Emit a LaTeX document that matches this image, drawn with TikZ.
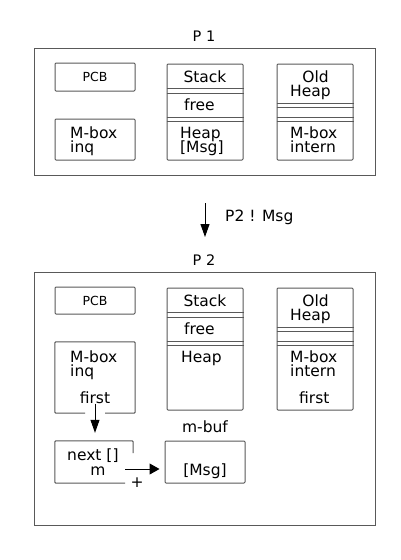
\documentclass[tikz,border=0pt]{standalone}
\usepackage{fontspec}
\setmainfont{DejaVu Sans}
\usetikzlibrary{positioning, arrows.meta, calc}
\definecolor{framegray}{gray}{0.35}
\tikzset{
  frame/.style={draw=framegray, line width=1pt},
  cell/.style={draw=framegray, line width=1pt, rounded corners=1pt, inner sep=0pt},
  lbl/.style={font=\fontsize{15.5}{18}\selectfont, inner sep=0pt, text height=11pt, text depth=0pt},
  title/.style={font=\fontsize{14.5}{17}\selectfont, inner sep=0pt, text height=10pt, text depth=0pt},
  small/.style={font=\fontsize{12.5}{15}\selectfont, inner sep=0pt},
  msgarrow/.style={-{Triangle[length=13pt,width=9pt]}, line width=1pt}
}

\begin{document}
\begin{tikzpicture}[x=1pt, y=-1pt]
      \useasboundingbox[fill=white] (0,0) rectangle (400,560);

      \node[title] (T1) at (204,36) {P 1};
      \draw[frame] (34,48) rectangle (375,175);

      \node[cell, small, minimum width=80pt, minimum height=28pt] (PCB1) at (95,77) {PCB};
      \node[cell, minimum width=80pt, minimum height=41pt] (INQ1) at (95,139.5) {};
      \node[lbl, anchor=west] (INQ1a) at (70,133) {M-box};
      \node[lbl, anchor=west] (INQ1b) at (70,147) {inq};

      \node[cell, minimum width=76pt, minimum height=96pt] (STK1) at (205,112) {};
      \foreach \y in {88,93,117,121}
        \draw[framegray, line width=1pt] (STK1.west |- 0,\y) -- (STK1.east |- 0,\y);
      \node[lbl] (STK1a) at (205,77) {Stack};
      \node[lbl, anchor=west] (STK1b) at (184,105) {free};
      \node[lbl, anchor=west] (STK1c) at (180,133) {Heap};
      \node[lbl, anchor=west] (STK1d) at (180,147) {[Msg]};

      \node[cell, minimum width=76pt, minimum height=96pt] (OLD1) at (315,112) {};
      \foreach \y in {103,107,117,121}
        \draw[framegray, line width=1pt] (OLD1.west |- 0,\y) -- (OLD1.east |- 0,\y);
      \node[lbl, anchor=east] (OLD1a) at (329,77) {Old};
      \node[lbl, anchor=west] (OLD1b) at (290,91) {Heap};
      \node[lbl, anchor=west] (OLD1c) at (290,133) {M-box};
      \node[lbl, anchor=west] (OLD1d) at (290,147) {intern};

      \coordinate (SEND1) at (205,203);
      \coordinate (SEND2) at (205,237);
      \draw[msgarrow] (SEND1) -- (SEND2);
      \node[lbl, anchor=west] (SENDa) at (225,216) {P2 ! Msg};

      \node[title] (T2) at (204,260) {P 2};
      \draw[frame] (34,272) rectangle (375,525);

      \node[cell, small, minimum width=80pt, minimum height=27pt] (PCB2) at (95,300.5) {PCB};
      \node[minimum width=80pt, minimum height=71pt, inner sep=0pt] (INQ2) at (95,377.5) {};
      \draw[framegray, line width=1pt, rounded corners=1pt]
        (INQ2.south west -| 85,0) -- (INQ2.south west) -- (INQ2.north west)
        -- (INQ2.north east) -- (INQ2.south east) -- (INQ2.south east -| 105,0);
      \node[lbl, anchor=west] (INQ2a) at (70,357) {M-box};
      \node[lbl, anchor=west] (INQ2b) at (70,371) {inq};
      \node[lbl] (FST2) at (95,398) {first};

      \node[cell, minimum width=76pt, minimum height=122pt] (STK2) at (205,349) {};
      \foreach \y in {312,317,341,345}
        \draw[framegray, line width=1pt] (STK2.west |- 0,\y) -- (STK2.east |- 0,\y);
      \node[lbl] (STK2a) at (205,301) {Stack};
      \node[lbl, anchor=west] (STK2b) at (184,329) {free};
      \node[lbl, anchor=west] (STK2c) at (181,357) {Heap};

      \node[cell, minimum width=76pt, minimum height=122pt] (OLD2) at (315,349) {};
      \foreach \y in {327,331,341,345}
        \draw[framegray, line width=1pt] (OLD2.west |- 0,\y) -- (OLD2.east |- 0,\y);
      \node[lbl, anchor=east] (OLD2a) at (329,301) {Old};
      \node[lbl, anchor=west] (OLD2b) at (290,315) {Heap};
      \node[lbl, anchor=west] (OLD2c) at (290,357) {M-box};
      \node[lbl, anchor=west] (OLD2d) at (290,371) {intern};
      \node[lbl, anchor=west] (OLD2e) at (299,398) {first};

      \node[minimum width=78pt, minimum height=42pt, inner sep=0pt] (NXT2) at (94,462) {};
      \draw[framegray, line width=1pt, rounded corners=1pt]
        (NXT2.north east |- 0,453) -- (NXT2.north east) -- (NXT2.north west)
        -- (NXT2.south west) -- (NXT2.south west -| 125,0);
      \node[lbl, anchor=west] (NXT2a) at (67,455) {next []};
      \node[lbl] (NXT2b) at (98,470) {m};
      \node[lbl] (PLUS2) at (137,482) {+};

      \node[lbl] (BUF2) at (205,427) {m-buf};
      \node[cell, minimum width=80pt, minimum height=42pt] (MSG2) at (205,462) {};
      \node[lbl] (MSG2a) at (205,470) {[Msg]};

      \draw[msgarrow, shorten >=8pt] (FST2.south) -- (FST2.south |- NXT2.north);
      \coordinate (PTR2) at (125,469);
      \draw[msgarrow, -{Triangle[length=10pt,width=11pt]}, shorten >=5pt] (PTR2) -- (PTR2 -| MSG2.west);
    \end{tikzpicture}
\end{document}
